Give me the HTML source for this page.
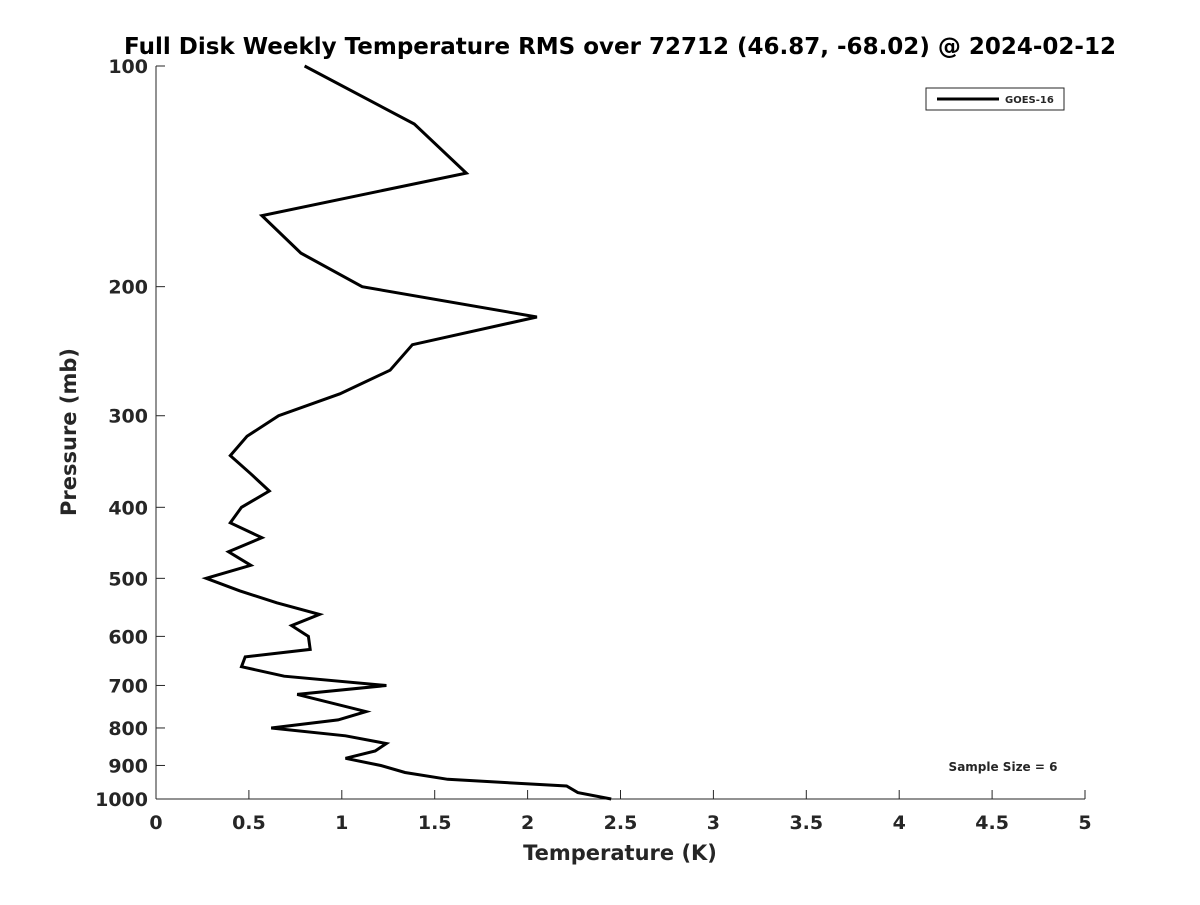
<!DOCTYPE html>
<html><head><meta charset="utf-8"><style>
body{margin:0;background:#fff}
svg text{font-family:"DejaVu Sans","Liberation Sans",sans-serif;font-weight:bold;fill:#262626}
</style></head><body>
<svg width="1200" height="900" viewBox="0 0 1200 900">
<text x="620" y="54" font-size="23" text-anchor="middle" fill="#000" style="fill:#000">Full Disk Weekly Temperature RMS over 72712 (46.87, -68.02) @ 2024-02-12</text>
<g id="axes"></g>
<g id="plot"></g>
<text x="620" y="860" font-size="21" text-anchor="middle">Temperature (K)</text>
<text transform="translate(76,432) rotate(-90)" font-size="21" text-anchor="middle">Pressure (mb)</text>
<g>
<rect x="926" y="88" width="138" height="22" fill="#fff" stroke="#262626" stroke-width="1"/>
<line x1="937" y1="99" x2="999" y2="99" stroke="#000" stroke-width="3"/>
<text x="1005" y="103" font-size="10">GOES-16</text>
</g>
<text x="1003" y="771" font-size="12" text-anchor="middle" fill="#000">Sample Size = 6</text>
</svg>
<script>
const pressures=[100,120,140,160,180,200,220,240,260,280,300,320,340,360,380,400,420,440,460,480,500,520,540,560,580,600,625,640,660,680,700,720,760,780,800,820,840,860,880,900,920,940,960,980,1000];
const rmsValues=[0.80,1.39,1.67,0.57,0.78,1.11,2.05,1.38,1.26,0.99,0.66,0.49,0.40,0.51,0.61,0.46,0.40,0.57,0.39,0.51,0.27,0.45,0.65,0.88,0.73,0.82,0.83,0.48,0.46,0.69,1.24,0.76,1.13,0.98,0.62,1.02,1.24,1.18,1.02,1.21,1.34,1.57,2.21,2.27,2.45];
const xTicks=[0,0.5,1,1.5,2,2.5,3,3.5,4,4.5,5];
const yTicks=[100,200,300,400,500,600,700,800,900,1000];
const X0=156,X1=1085,Y0=66,Y1=799;
const xs=v=>X0+(v-0)/5*(X1-X0);
const ys=p=>Y0+(Math.log10(p)-2)*(Y1-Y0);
const NS="http://www.w3.org/2000/svg";
const axes=document.getElementById('axes'),plot=document.getElementById('plot');
function mk(tag,attrs,parent){const e=document.createElementNS(NS,tag);for(const k in attrs)e.setAttribute(k,attrs[k]);parent.appendChild(e);return e;}
const xa=mk('line',{x1:X0,y1:Y1,x2:X1,y2:Y1,stroke:'#262626','stroke-width':1},axes);


const ya=mk('line',{x1:X0,y1:Y0,x2:X0,y2:Y1,stroke:'#262626','stroke-width':1},axes);


xTicks.forEach(t=>{const x=xs(t);
mk('line',{x1:x,y1:Y1,x2:x,y2:Y1-9,stroke:'#262626'},axes);
const tx=mk('text',{x:x,y:Y1+30,'font-size':19,'text-anchor':'middle'},axes);tx.textContent=t;

});
yTicks.forEach(t=>{const y=ys(t);
mk('line',{x1:X0,y1:y,x2:X0+9,y2:y,stroke:'#262626'},axes);
const tx=mk('text',{x:X0-8,y:y+7,'font-size':19,'text-anchor':'end'},axes);tx.textContent=t;

});
const pts=pressures.map((p,i)=>xs(rmsValues[i]).toFixed(1)+','+ys(p).toFixed(1)).join(' ');
const line=mk('polyline',{points:pts,fill:'none',stroke:'#000','stroke-width':3,'stroke-linejoin':'miter'},plot);


</script>
</body></html>
